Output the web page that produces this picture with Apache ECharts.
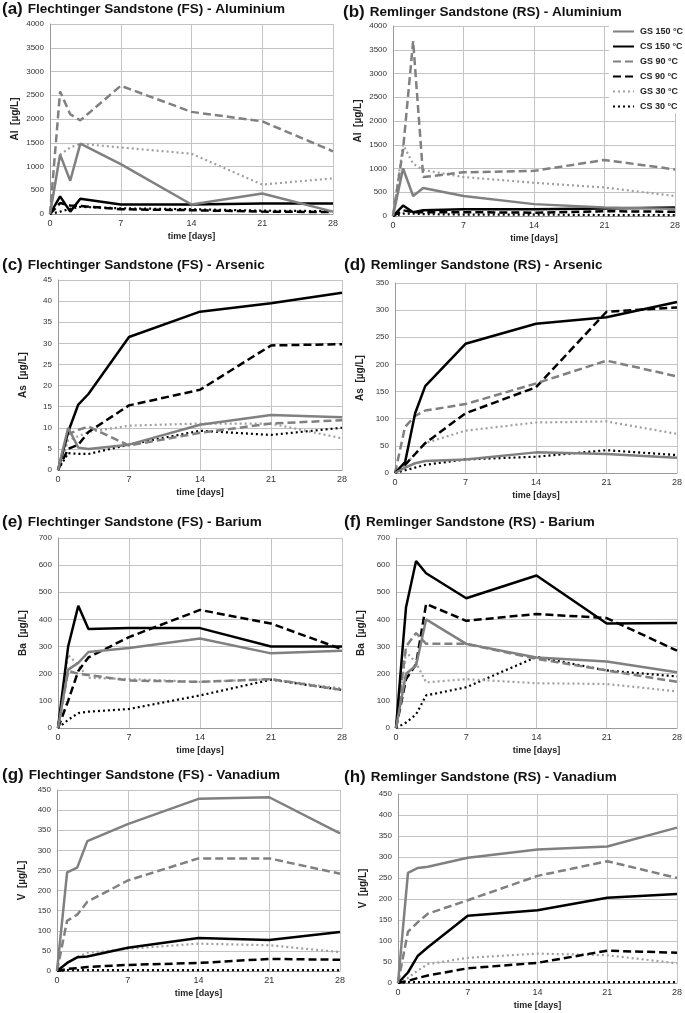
<!DOCTYPE html>
<html><head><meta charset="utf-8">
<script src="https://cdn.jsdelivr.net/npm/echarts@6/dist/echarts.min.js"></script>
<style>html,body{margin:0;padding:0;background:#fff}#c{width:685px;height:1013px}</style>
</head><body><div id="c"></div>
<script>
const days = [0, 1, 2, 3, 7, 14, 21, 28];
const seriesNames = ['GS 150 °C', 'CS 150 °C', 'GS 90 °C', 'CS 90 °C', 'GS 30 °C', 'CS 30 °C'];
const panelLetters = ['(a)', '(b)', '(c)', '(d)', '(e)', '(f)', '(g)', '(h)'];
const panelTitles = [
  'Flechtinger Sandstone (FS) - Aluminium', 'Remlinger Sandstone (RS) - Aluminium',
  'Flechtinger Sandstone (FS) - Arsenic', 'Remlinger Sandstone (RS) - Arsenic',
  'Flechtinger Sandstone (FS) - Barium', 'Remlinger Sandstone (RS) - Barium',
  'Flechtinger Sandstone (FS) - Vanadium', 'Remlinger Sandstone (RS) - Vanadium'];
const yNames = ['Al  [µg/L]', 'Al  [µg/L]', 'As  [µg/L]', 'As  [µg/L]', 'Ba  [µg/L]', 'Ba  [µg/L]', 'V  [µg/L]', 'V  [µg/L]'];
const yMax = [4000, 4000, 45, 350, 700, 700, 450, 450];
const yStep = [500, 500, 5, 50, 100, 100, 50, 50];

// rows: GS150, CS150, GS90, CS90, GS30, CS30
const alFS = [
  [0, 1250, 700, 1480, 1050, 200, 430, 50],
  [0, 370, 50, 320, 200, 200, 220, 220],
  [0, 2580, 2100, 1970, 2700, 2150, 1950, 1320],
  [0, 230, 180, 170, 100, 80, 50, 40],
  [0, 1250, 1400, 1480, 1400, 1270, 620, 750],
  [0, 50, 110, 150, 120, 100, 70, 60]];
const alRS = [
  [0, 1000, 420, 590, 420, 250, 180, 150],
  [0, 220, 80, 120, 140, 140, 160, 180],
  [0, 1400, 3680, 820, 920, 950, 1180, 980],
  [0, 120, 80, 80, 80, 70, 100, 90],
  [0, 1500, 1100, 970, 820, 700, 600, 420],
  [0, 50, 50, 40, 30, 30, 20, 20]];
const asFS = [
  [0, 10, 5.3, 5, 6, 10.7, 13, 12.5],
  [0, 9, 15.5, 18, 31.5, 37.5, 39.5, 42],
  [0, 8.5, 9.5, 10.3, 5.8, 8.8, 11, 11.8],
  [0, 5, 6, 9, 15.3, 19, 29.5, 29.8],
  [0, 7, 8, 9, 10.5, 11, 11, 7.5],
  [0, 4, 3.8, 3.8, 6, 9.3, 8.3, 10]];
const asRS = [
  [0, 10, 18, 22, 25, 38, 35, 28],
  [0, 20, 110, 160, 238, 275, 287, 315],
  [0, 85, 105, 115, 127, 165, 207, 178],
  [0, 15, 35, 55, 110, 158, 297, 305],
  [0, 15, 35, 55, 78, 93, 95, 72],
  [0, 5, 10, 15, 25, 30, 42, 33]];
const baFS = [
  [0, 215, 240, 280, 295, 330, 275, 285],
  [0, 300, 450, 365, 368, 368, 300, 300],
  [0, 210, 200, 195, 175, 170, 180, 140],
  [0, 100, 210, 260, 335, 435, 385, 290],
  [0, 270, 230, 185, 180, 170, 180, 145],
  [0, 30, 55, 60, 70, 120, 178, 140]];
const baRS = [
  [0, 200, 230, 400, 310, 260, 245, 205],
  [0, 445, 615, 570, 478, 562, 385, 387],
  [0, 300, 350, 310, 310, 255, 212, 170],
  [0, 180, 235, 457, 395, 420, 405, 285],
  [0, 280, 240, 168, 180, 165, 162, 135],
  [0, 20, 50, 120, 150, 262, 212, 190]];
const vFS = [
  [0, 245, 257, 323, 365, 428, 432, 342],
  [0, 20, 34, 36, 58, 82, 77, 97],
  [0, 125, 140, 172, 225, 280, 280, 242],
  [0, 5, 7, 10, 15, 20, 30, 28],
  [0, 20, 35, 45, 55, 68, 64, 47],
  [0, 2, 2, 2, 2, 2, 2, 2]];
const vRS = [
  [0, 262, 274, 277, 298, 318, 325, 370],
  [0, 25, 65, 85, 160, 173, 203, 212],
  [0, 122, 145, 165, 197, 255, 290, 250],
  [0, 5, 12, 18, 35, 48, 77, 72],
  [0, 12, 30, 45, 60, 70, 66, 47],
  [0, 2, 2, 2, 2, 2, 2, 2]];
const panelData = [alFS, alRS, asFS, asRS, baFS, baRS, vFS, vRS];

// layout
const grids = [
  {left: 50, right: 352, top: 24, bottom: 799},
  {left: 393, right: 10, top: 26, bottom: 797},
  {left: 58, right: 343, top: 280, bottom: 543},
  {left: 395, right: 5, top: 283, bottom: 540},
  {left: 58, right: 343, top: 538, bottom: 285},
  {left: 396, right: 5, top: 538, bottom: 285},
  {left: 57, right: 345, top: 790, bottom: 42},
  {left: 398, right: 5, top: 794, bottom: 30}];
const titlePos = [[2, 0], [343, 3], [2, 256], [344, 256], [2, 513], [344, 513], [2, 766], [344, 768]];

const styles = [
  {color: '#808080', type: 'solid', width: 2.5},
  {color: '#000000', type: 'solid', width: 2.5},
  {color: '#808080', type: [8, 4], width: 2.5},
  {color: '#000000', type: [8, 4], width: 2.5},
  {color: '#a0a0a0', type: [2, 3], width: 2.2},
  {color: '#000000', type: [2, 3], width: 2.2}];

const font = 'Liberation Sans, Arial, sans-serif';
const option = {
  animation: false,
  backgroundColor: '#fff',
  title: [], grid: [], xAxis: [], yAxis: [], series: [],
  legend: {
    data: seriesNames, orient: 'vertical', left: 609, top: 25,
    itemWidth: 21, itemHeight: 10, itemGap: 6, backgroundColor: '#fff',
    padding: [2, 4, 2, 3],
    itemStyle: {color: 'rgba(0,0,0,0)', borderWidth: 0, opacity: 0},
    textStyle: {fontFamily: font, fontSize: 9, fontWeight: 'bold', color: '#222', padding: [0, 0, 0, 1]}
  }
};
for (let i = 0; i < 8; i++) {
  option.title.push({
    text: '{l|' + panelLetters[i] + '} {t|' + panelTitles[i] + '}',
    left: titlePos[i][0], top: titlePos[i][1], padding: 0,
    textStyle: {rich: {
      l: {fontFamily: font, fontSize: 17, fontWeight: 'bold', color: '#111'},
      t: {fontFamily: font, fontSize: 13.5, fontWeight: 'bold', color: '#111'}}}
  });
  option.grid.push(Object.assign({}, grids[i]));
  option.xAxis.push({
    type: 'value', gridIndex: i, min: 0, max: 28, interval: 7,
    name: 'time [days]', nameLocation: 'middle', nameGap: 18,
    nameTextStyle: {fontFamily: font, fontSize: 9, fontWeight: 'bold', color: '#222'},
    axisLine: {show: true, lineStyle: {color: '#999', width: 1}},
    axisTick: {show: false},
    axisLabel: {fontFamily: font, fontSize: 9, color: '#333', margin: 5},
    splitLine: {show: true, lineStyle: {color: '#c4c4c4', width: 1}}
  });
  option.yAxis.push({
    type: 'value', gridIndex: i, min: 0, max: yMax[i], interval: yStep[i],
    name: yNames[i], nameLocation: 'middle', nameGap: 30,
    nameTextStyle: {fontFamily: font, fontSize: 10, fontWeight: 'bold', color: '#222'},
    axisLine: {show: true, lineStyle: {color: '#999', width: 1}},
    axisTick: {show: false},
    axisLabel: {fontFamily: font, fontSize: 8, color: '#333', margin: 6, formatter: v => String(v)},
    splitLine: {show: true, lineStyle: {color: '#c4c4c4', width: 1}}
  });
  panelData[i].forEach((vals, s) => {
    option.series.push({
      name: seriesNames[s], type: 'line', xAxisIndex: i, yAxisIndex: i,
      data: days.map((d, k) => [d, vals[k]]),
      symbol: 'none', showSymbol: false,
      itemStyle: {color: styles[s].color},
      lineStyle: {color: styles[s].color, type: styles[s].type, width: styles[s].width},
      z: 10 - s
    });
  });
}
const chart = echarts.init(document.getElementById('c'), null, {renderer: 'canvas'});
chart.setOption(option);
</script></body></html>
